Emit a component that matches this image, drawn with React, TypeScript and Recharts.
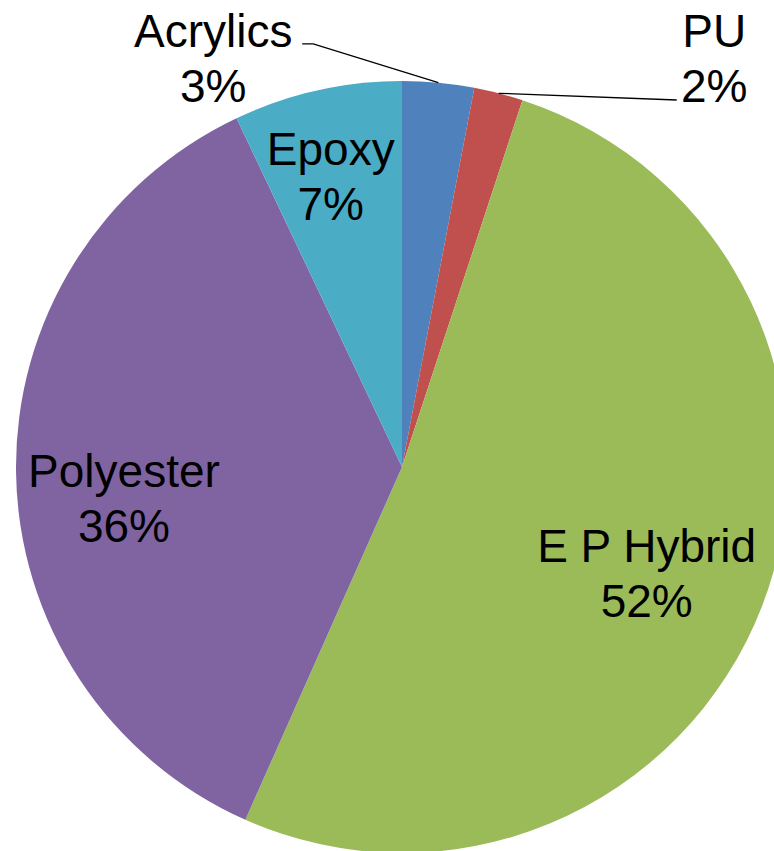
import React from "react";
import { PieChart, Pie, Cell } from "recharts";

const categories = ["Acrylics", "PU", "E P Hybrid", "Polyester", "Epoxy"];
const shares = [3.0, 2.05, 51.6, 36.3, 7.05];
const colors = ["#4F81BD", "#C0504D", "#9BBB59", "#8064A2", "#4BACC6"];

const data = categories.map((name, i) => ({ name, value: shares[i] }));

// label placement: radius factor and angular shift (deg, clockwise) from slice mid angle
const labelLayout: Record<string, { r: number; dA: number; leader?: string }> = {
  Acrylics: { r: 1.166, dA: -30.2, leader: "left" },
  PU: { r: 1.332, dA: 22.9, leader: "right" },
  "E P Hybrid": { r: 0.691, dA: 2.4 },
  Polyester: { r: 0.725, dA: -5.8 },
  Epoxy: { r: 0.774, dA: -1.1 },
};

const FONT = "'Liberation Sans', Arial, Helvetica, sans-serif";
const FS = 46;
const LH = 55;
const RAD = Math.PI / 180;

const renderLabel = (props: any) => {
  const { cx, cy, outerRadius, midAngle, name, percent } = props;
  const lay = labelLayout[name];
  if (!lay) return null;
  const theta = (90 - midAngle + lay.dA) * RAD; // clockwise from top
  const lx = cx + outerRadius * lay.r * Math.sin(theta);
  const ly = cy - outerRadius * lay.r * Math.cos(theta);
  const b1 = ly - 11.5;
  const pct = `${Math.round(percent * 100)}%`;
  const mTheta = (90 - midAngle) * RAD;
  const ex = cx + outerRadius * Math.sin(mTheta);
  const ey = cy - outerRadius * Math.cos(mTheta);
  let leader: React.ReactNode = null;
  if (lay.leader === "left") {
    const endX = lx + 89;
    const endY = ly - 14.5;
    leader = (
      <polyline
        points={`${ex},${ey} ${endX + 11},${endY} ${endX},${endY}`}
        fill="none"
        stroke="#000"
        strokeWidth={1.3}
      />
    );
  } else if (lay.leader === "right") {
    const endX = lx - 37.5;
    const endY = ly + 41.5;
    leader = (
      <polyline
        points={`${ex},${ey} ${endX},${endY}`}
        fill="none"
        stroke="#000"
        strokeWidth={1.3}
      />
    );
  }
  return (
    <g>
      {leader}
      <text
        x={lx}
        y={b1}
        textAnchor="middle"
        fontFamily={FONT}
        fontSize={FS}
        fill="#000"
      >
        <tspan x={lx} y={b1}>
          {name}
        </tspan>
        <tspan x={lx} y={b1 + LH}>
          {pct}
        </tspan>
      </text>
    </g>
  );
};

export default function App() {
  return (
    <div
      style={{
        position: "absolute",
        left: 0,
        top: 0,
        width: 774,
        height: 851,
        background: "#fff",
        overflow: "hidden",
      }}
    >
      <PieChart
        width={774}
        height={851}
        margin={{ top: 0, right: 0, bottom: 0, left: 0 }}
      >
        <Pie
          data={data}
          dataKey="value"
          nameKey="name"
          cx={402}
          cy={467}
          outerRadius={386}
          startAngle={90}
          endAngle={-270}
          stroke="none"
          label={renderLabel}
          labelLine={false}
          isAnimationActive={false}
        >
          {data.map((d, i) => (
            <Cell key={d.name} fill={colors[i]} />
          ))}
        </Pie>
      </PieChart>
    </div>
  );
}
